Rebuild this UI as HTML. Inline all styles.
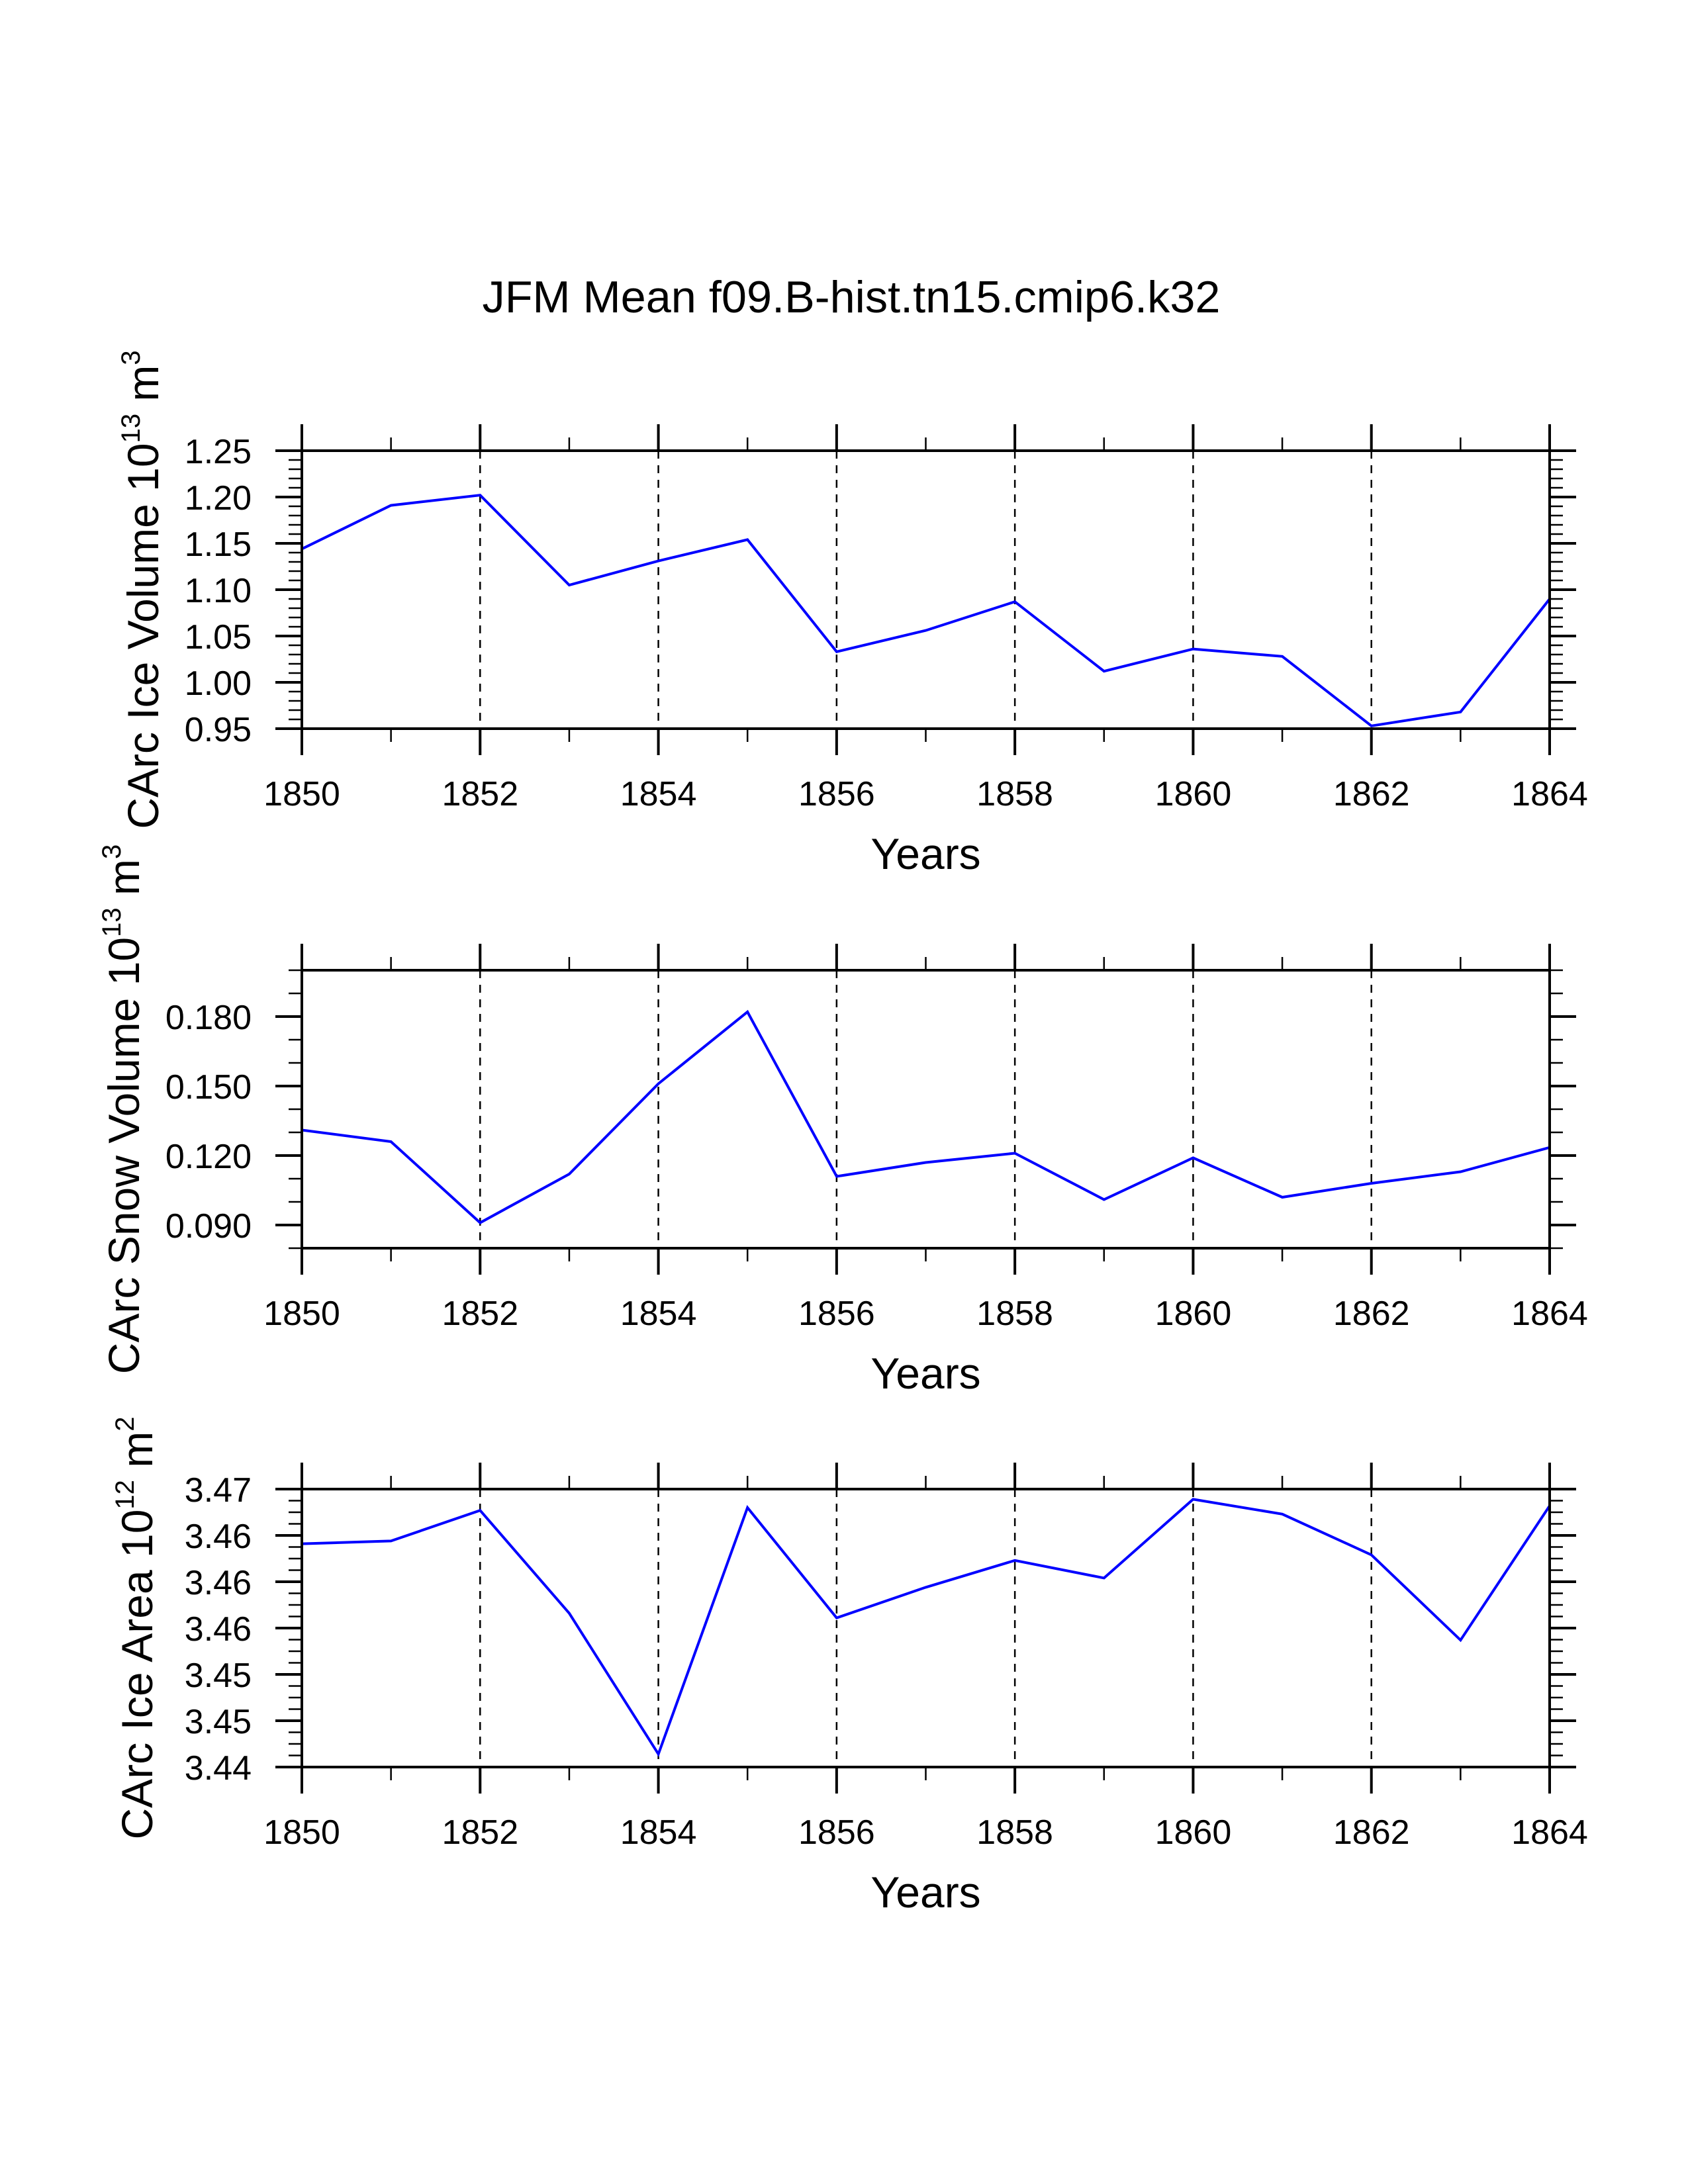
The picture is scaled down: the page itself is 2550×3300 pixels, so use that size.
<!DOCTYPE html>
<html><head><meta charset="utf-8"><style>
html,body{margin:0;padding:0;background:#fff;}
svg{display:block;font-family:"Liberation Sans",Arial,sans-serif;}
</style></head><body>
<svg id="fig" width="2550" height="3300" viewBox="0 0 2550 3300" xmlns="http://www.w3.org/2000/svg">
<rect width="2550" height="3300" fill="#fff"/>
<text x="1286" y="472" font-size="68" text-anchor="middle" textLength="1115" lengthAdjust="spacingAndGlyphs">JFM Mean f09.B-hist.tn15.cmip6.k32</text>
</svg>
<script>
const years = [1850,1851,1852,1853,1854,1855,1856,1857,1858,1859,1860,1861,1862,1863,1864];
const iceVolume = [1.144,1.191,1.202,1.105,1.131,1.154,1.033,1.056,1.087,1.012,1.036,1.028,0.953,0.968,1.090];
const snowVolume = [0.131,0.126,0.091,0.112,0.151,0.182,0.111,0.117,0.121,0.101,0.119,0.102,0.108,0.113,0.1235];
const iceArea = [3.4641,3.4644,3.4677,3.4566,3.4414,3.4680,3.4561,3.4594,3.4623,3.4604,3.4689,3.4673,3.4629,3.4537,3.4682];
const xTickLabels = ["1850","1852","1854","1856","1858","1860","1862","1864"];
const iceVolTicks = ["0.95","1.00","1.05","1.10","1.15","1.20","1.25"];
const snowTicks = ["0.090","0.120","0.150","0.180"];
const areaTicks = ["3.44","3.45","3.45","3.46","3.46","3.46","3.47"];

const NS = "http://www.w3.org/2000/svg";
const svg = document.getElementById('fig');
function mk(tag, attrs, parent){const e=document.createElementNS(NS,tag);for(const k in attrs)e.setAttribute(k,attrs[k]);(parent||svg).appendChild(e);return e;}

const L=456, R=2341;
const xs = y => L + (y-1850)/(1864-1850)*(R-L);

const panels = [
 {key:'ice-volume', top:681, bot:1101, ymin:0.95, ymax:1.25, data:iceVolume, major:0.05, minorN:5, labels:iceVolTicks, labelStart:0.95, titleX:217, title:["CArc Ice Volume 10","13"," m","3"]},
 {key:'snow-volume', top:1466, bot:1886, ymin:0.08, ymax:0.20, data:snowVolume, major:0.03, minorN:3, labels:snowTicks, labelStart:0.09, titleX:188, title:["CArc Snow Volume 10","13"," m","3"], minorStart:0.08, minorStep:0.01},
 {key:'ice-area', top:2250, bot:2670, ymin:3.44, ymax:3.47, data:iceArea, major:0.005, minorN:4, labels:areaTicks, labelStart:3.44, titleX:208, title:["CArc Ice Area 10","12"," m","2"]}
];

panels.forEach(p=>{
  const g = mk('g',{});
  
  
  const ys = v => p.bot - (v-p.ymin)/(p.ymax-p.ymin)*(p.bot-p.top);
  for(let yr=1852; yr<1864; yr+=2){
    const gl = mk('line',{x1:xs(yr),x2:xs(yr),y1:p.top,y2:p.bot,stroke:'#000','stroke-width':2.5,'stroke-dasharray':'12 10'},g);
    
    
  }
  years.forEach(yr=>{
    const maj = (yr-1850)%2===0;
    const len = maj?40:20, w = maj?4:2.5;
    mk('line',{x1:xs(yr),x2:xs(yr),y1:p.bot,y2:p.bot+len,stroke:'#000','stroke-width':w},g);
    mk('line',{x1:xs(yr),x2:xs(yr),y1:p.top,y2:p.top-len,stroke:'#000','stroke-width':w},g);
  });
  const minorStep = p.minorStep || p.major/p.minorN;
  const mStart = p.minorStart!==undefined ? p.minorStart : p.ymin;
  for(let v=mStart; v<=p.ymax+1e-9; v+=minorStep){
    const y=ys(v);
    const rel=(v-p.labelStart)/p.major;
    const maj = Math.abs(rel-Math.round(rel))<1e-6 && rel>-1e-6;
    const len = maj?40:20, w = maj?4:2.5;
    mk('line',{x1:L,x2:L-len,y1:y,y2:y,stroke:'#000','stroke-width':w},g);
    mk('line',{x1:R,x2:R+len,y1:y,y2:y,stroke:'#000','stroke-width':w},g);
  }
  p.labels.forEach((lab,i)=>{
    const v=p.labelStart+i*p.major;
    const t=mk('text',{x:380,y:ys(v)+19,'font-size':52,'text-anchor':'end'},g);
    t.textContent=lab;
    
    
  });
  xTickLabels.forEach(lab=>{
    const t=mk('text',{x:xs(+lab),y:p.bot+116,'font-size':52,'text-anchor':'middle'},g);
    t.textContent=lab;
    
    
  });
  const xt=mk('text',{x:(L+R)/2,y:p.bot+212,'font-size':66,'text-anchor':'middle'},g);
  xt.textContent='Years';
  
  
  const cy=(p.top+p.bot)/2;
  const yt=mk('text',{x:0,y:0,'font-size':66,'text-anchor':'middle',transform:`translate(${p.titleX+22},${cy}) rotate(-90)`},g);
  
  
  p.title.forEach((s,i)=>{
    const ts=mk('tspan',{},yt);
    if(i%2===1){ts.setAttribute('font-size','40');ts.setAttribute('dy','-28');}
    else if(i>0){ts.setAttribute('dy','28');}
    ts.textContent=s;
  });
  const pts = p.data.map((v,i)=>xs(years[i]).toFixed(1)+','+ys(v).toFixed(1)).join(' ');
  const pl=mk('polyline',{points:pts,fill:'none',stroke:'#0000ff','stroke-width':4,'stroke-linejoin':'miter'},g);
  
  
  const bx=mk('rect',{x:L,y:p.top,width:R-L,height:p.bot-p.top,fill:'none',stroke:'#000','stroke-width':4},g);
  
  
});
</script>
</body></html>
